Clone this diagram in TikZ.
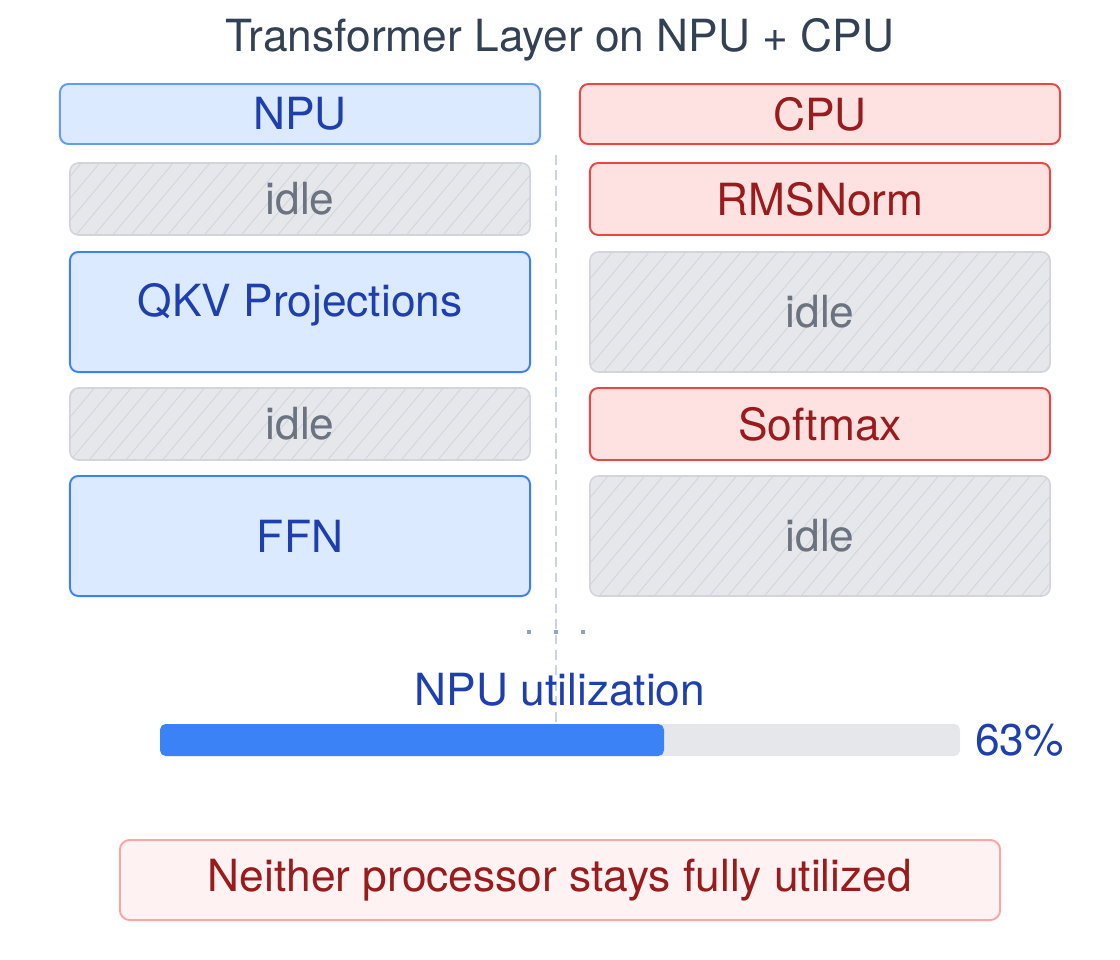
\documentclass[tikz,border=0pt]{standalone}
\usepackage{fontspec}
\setmainfont{TeX Gyre Heros}
\usepackage{xcolor}
\usepackage{tikz}
\usetikzlibrary{patterns.meta}
\definecolor{titlegray}{HTML}{334155}
\definecolor{npufill}{HTML}{DBEAFE}
\definecolor{npudraw}{HTML}{3B82F6}
\definecolor{nputext}{HTML}{1E40AF}
\definecolor{cpufill}{HTML}{FEE2E2}
\definecolor{cpudraw}{HTML}{EF4444}
\definecolor{cputext}{HTML}{991B1B}
\definecolor{idlefill}{HTML}{E5E7EB}
\definecolor{idledraw}{HTML}{D1D5DB}
\definecolor{idletext}{HTML}{6B7280}
\definecolor{dotgray}{HTML}{94A3B8}
\definecolor{divider}{HTML}{CBD5E1}
\definecolor{notefill}{HTML}{FEF2F2}
\definecolor{notedraw}{HTML}{FCA5A5}

\begin{document}
\begin{tikzpicture}[
  x=0.025cm, y=-0.025cm,
  font=\fontsize{31.5}{36}\selectfont,
  head/.style={rounded corners=6pt,line width=1.4pt,minimum width=12cm,minimum height=1.5cm,inner sep=0pt},
  npu/.style={rounded corners=6pt,line width=1.4pt,draw=npudraw,fill=npufill,text=nputext,minimum width=11.5cm,inner sep=0pt},
  cpu/.style={rounded corners=6pt,line width=1.4pt,draw=cpudraw,fill=cpufill,text=cputext,minimum width=11.5cm,inner sep=0pt},
  idlebox/.style={rounded corners=6pt,line width=1.1pt,draw=idledraw,preaction={fill=idlefill},
    pattern={Lines[angle=50,distance=10pt,line width=0.6pt]},pattern color=idledraw,
    text=idletext,minimum width=11.5cm,inner sep=0pt},
  short/.style={minimum height=1.8cm},
  tall/.style={minimum height=3cm},
  tick/.style={fill=dotgray,minimum size=3.5pt,inner sep=0pt}
]
\useasboundingbox (0,0) rectangle (1120,960);
\node[text=titlegray] (title) at (560,40) {Transformer Layer on NPU + CPU};
\node[head,draw=npudraw!80,fill=npufill,text=nputext] (npuhead) at (300,114) {NPU};
\node[head,draw=cpudraw,fill=cpufill,text=cputext]    (cpuhead) at (820,114) {CPU};
% divider between the two lanes
\draw[divider,line width=1.4pt,dash pattern=on 7pt off 4pt] (556,155) -- (556,722);
% NPU lane
\node[idlebox,short] (npu1) at (300,199) {idle};
\node[npu,tall,text depth=0.6cm] (npu2) at (300,312) {QKV Projections};
\node[idlebox,short] (npu3) at (300,424) {idle};
\node[npu,tall]      (npu4) at (300,536) {FFN};
% CPU lane
\node[cpu,short]     (cpu1) at (820,199) {RMSNorm};
\node[idlebox,tall]  (cpu2) at (820,312) {idle};
\node[cpu,short]     (cpu3) at (820,424) {Softmax};
\node[idlebox,tall]  (cpu4) at (820,536) {idle};
\node[tick] (d1) at (529,632) {};
\node[tick] (d2) at (556,632) {};
\node[tick] (d3) at (583,632) {};
% utilization bar
\node[text=nputext] (utl) at (560,690) {NPU utilization};
\fill[idlefill,rounded corners=4pt] (160,724) rectangle (960,756);
\fill[npudraw,rounded corners=4pt] (160,724) rectangle (664,756);
\node[text=nputext,anchor=west,inner sep=0pt] (pct) at (975,740) {63\%};
\node[rounded corners=7pt,line width=1.4pt,draw=notedraw,fill=notefill,text=cputext,
  minimum width=22cm,minimum height=2cm,inner sep=0pt] (note) at (560,880) {Neither processor stays fully utilized};
\end{tikzpicture}
\end{document}
